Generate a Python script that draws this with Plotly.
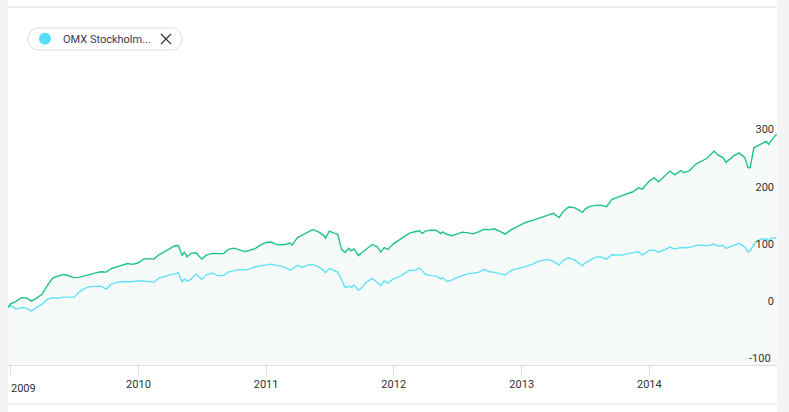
import plotly.graph_objects as go

dates = [
    "2008-12-24", "2009-01-01", "2009-01-15", "2009-02-01", "2009-02-15", "2009-03-01", "2009-03-15",
    "2009-04-01", "2009-04-15", "2009-05-01", "2009-05-15", "2009-06-01", "2009-06-15", "2009-07-01",
    "2009-07-15", "2009-08-01", "2009-08-15", "2009-09-01", "2009-09-15", "2009-10-01", "2009-10-15",
    "2009-11-01", "2009-11-15", "2009-12-01", "2009-12-15",
    "2010-01-01", "2010-01-15", "2010-02-01", "2010-02-15", "2010-03-01", "2010-03-15", "2010-04-01",
    "2010-04-15", "2010-04-25", "2010-05-06", "2010-05-12", "2010-05-20", "2010-06-01", "2010-06-15",
    "2010-07-01", "2010-07-15", "2010-08-01", "2010-08-15", "2010-09-01", "2010-09-15", "2010-10-01",
    "2010-10-15", "2010-11-01", "2010-11-15", "2010-12-01", "2010-12-15",
    "2011-01-01", "2011-01-15", "2011-02-01", "2011-02-15", "2011-03-01", "2011-03-10", "2011-03-16",
    "2011-04-01", "2011-04-15", "2011-05-01", "2011-05-15", "2011-06-01", "2011-06-15", "2011-06-20",
    "2011-07-01", "2011-07-15", "2011-07-25", "2011-08-05", "2011-08-15", "2011-08-25", "2011-09-01",
    "2011-09-10", "2011-09-22", "2011-10-01", "2011-10-15", "2011-11-01", "2011-11-15", "2011-11-25",
    "2011-12-05", "2011-12-15",
    "2012-01-01", "2012-01-15", "2012-02-01", "2012-02-15", "2012-03-01", "2012-03-15", "2012-03-22",
    "2012-04-01", "2012-04-15", "2012-05-01", "2012-05-15", "2012-05-20", "2012-06-01", "2012-06-15",
    "2012-07-01", "2012-07-15", "2012-08-01", "2012-08-15", "2012-09-01", "2012-09-15", "2012-10-01",
    "2012-10-15", "2012-11-01", "2012-11-15", "2012-12-01", "2012-12-15",
    "2013-01-01", "2013-01-15", "2013-02-01", "2013-02-15", "2013-03-01", "2013-03-15", "2013-04-01",
    "2013-04-18", "2013-05-01", "2013-05-15", "2013-06-01", "2013-06-24", "2013-07-01", "2013-07-15",
    "2013-08-01", "2013-08-15", "2013-09-01", "2013-09-15", "2013-10-01", "2013-10-15", "2013-11-01",
    "2013-11-15", "2013-12-01", "2013-12-12",
    "2014-01-01", "2014-01-15", "2014-01-27", "2014-02-15", "2014-03-01", "2014-03-15", "2014-04-01",
    "2014-04-10", "2014-04-25", "2014-05-15", "2014-06-01", "2014-06-15", "2014-07-01", "2014-07-05",
    "2014-07-15", "2014-08-01", "2014-08-08", "2014-09-01", "2014-09-15", "2014-10-01", "2014-10-10",
    "2014-10-16", "2014-10-27", "2014-11-01", "2014-11-15", "2014-12-01", "2014-12-09", "2014-12-15",
    "2014-12-31",
]

fund_values = [
    -10.5, -3.8, -0.3, 6.3, 6.1, 0.5, 5.2,
    12.7, 27.6, 40.7, 44.1, 46.8, 44.7, 41.5,
    41.9, 45.0, 47.6, 49.7, 51.8, 51.1, 57.2,
    60.4, 63.3, 66.0, 64.7,
    67.4, 73.8, 74.7, 73.8, 81.7, 86.0, 91.6,
    97.2, 97.4, 79.9, 86.6, 77.8, 84.3, 84.8,
    73.8, 81.1, 83.8, 83.1, 83.4, 90.7, 93.0,
    90.4, 86.9, 89.2, 92.1, 98.2,
    102.8, 103.5, 99.1, 98.8, 99.8, 102.3, 98.2,
    111.3, 115.7, 120.9, 125.5, 120.9, 114.8, 110.5,
    122.7, 119.2, 116.9, 90.4, 85.2, 92.5, 88.3,
    91.6, 79.9, 85.0, 91.6, 99.3, 95.3, 86.0,
    93.9, 90.7,
    100.9, 106.6, 113.1, 119.2, 121.6, 123.2, 118.7,
    122.7, 124.4, 124.1, 118.3, 121.3, 117.1, 114.6,
    117.8, 120.9, 119.5, 117.8, 121.6, 125.6, 125.3,
    126.7, 121.8, 117.4, 124.8, 129.0,
    134.9, 138.6, 141.5, 144.8, 146.8, 150.2, 153.7,
    146.2, 157.6, 164.6, 163.7, 155.3, 161.1, 165.8,
    167.5, 168.0, 165.4, 177.6, 181.5, 184.6, 189.0,
    191.3, 198.2, 196.0,
    209.9, 215.7, 208.7, 218.6, 227.4, 220.9, 228.2,
    224.8, 227.9, 240.1, 245.3, 249.7, 260.0, 262.3,
    256.0, 250.1, 242.6, 254.8, 259.1, 250.9, 233.5,
    233.1, 268.0, 269.6, 275.0, 279.2, 274.0, 280.6,
    291.9,
]

omx_values = [
    -10.5, -6.5, -13.4, -10.8, -11.7, -16.9, -10.5,
    -4.7, 3.5, 6.3, 5.2, 7.5, 7.5, 7.0,
    16.2, 22.7, 25.8, 26.2, 26.7, 21.5, 29.7,
    33.3, 34.6, 34.4, 34.2,
    35.9, 35.4, 34.0, 33.7, 40.7, 43.8, 46.2,
    48.0, 49.9, 33.7, 38.9, 35.4, 38.9, 47.6,
    38.4, 46.8, 49.4, 45.0, 45.0, 51.1, 54.1,
    55.5, 55.0, 56.2, 60.4, 61.6,
    63.3, 65.1, 62.5, 61.2, 58.1, 54.6, 56.4,
    63.0, 59.3, 63.7, 64.2, 60.2, 53.7, 49.9,
    57.2, 53.7, 51.1, 38.0, 23.7, 26.7, 24.4,
    28.4, 19.7, 23.6, 33.7, 40.3, 32.5, 27.6,
    35.9, 31.9,
    39.8, 42.4, 49.0, 54.3, 54.1, 58.1, 53.7,
    47.3, 45.0, 44.5, 39.3, 41.5, 34.6, 37.2,
    41.9, 45.0, 48.5, 49.4, 51.1, 55.7, 51.8,
    50.6, 48.5, 45.9, 53.6, 55.8,
    59.0, 61.6, 65.1, 69.5, 71.7, 73.3, 70.3,
    63.3, 72.1, 76.1, 72.4, 62.1, 66.8, 72.1,
    77.3, 77.7, 73.8, 81.5, 81.7, 80.8, 83.4,
    84.6, 86.6, 80.8,
    89.2, 89.5, 86.0, 90.9, 94.8, 91.3, 93.9,
    93.4, 94.2, 97.7, 98.2, 97.0, 99.3, 100.0,
    96.5, 97.4, 92.5, 97.7, 101.2, 94.8, 86.6,
    88.6, 100.7, 103.5, 108.4, 109.4, 105.7, 109.8,
    111.7,
]

legend_label = "OMX Stockholm..."
year_ticks = ["2009-01-01", "2010-01-01", "2011-01-01", "2012-01-01", "2013-01-01", "2014-01-01"]
year_labels = ["2009", "2010", "2011", "2012", "2013", "2014"]
y_ticks = [-100, 0, 100, 200, 300]

Y_MIN, Y_MAX = -111, 473.6
X_RANGE = ["2008-12-24", "2015-01-01"]

GREEN = "#1fc47e"
CYAN = "#62e1f6"
FILL = "#f6fbfa"
TEXT = "#333333"

fig = go.Figure()

# shaded area under the top series down to the bottom of the axis
fig.add_trace(go.Scatter(
    x=dates + dates[::-1],
    y=fund_values + [Y_MIN] * len(dates),
    fill="toself", fillcolor=FILL, mode="none",
    hoverinfo="skip", showlegend=False,
))
fig.add_trace(go.Scatter(x=dates, y=omx_values, mode="lines",
                         line=dict(color=CYAN, width=1.4), name="OMX Stockholm", showlegend=False))
fig.add_trace(go.Scatter(x=dates, y=fund_values, mode="lines",
                         line=dict(color=GREEN, width=1.4), name="Fund", showlegend=False))

# first year label is nudged right so it stays inside the chart
shown_labels = [""] + year_labels[1:]

fig.update_layout(
    width=789, height=412,
    margin=dict(l=8, r=12, t=30, b=47),
    paper_bgcolor="white", plot_bgcolor="white",
    font=dict(family="Roboto, Arial, sans-serif", size=11, color=TEXT),
    showlegend=False,
    xaxis=dict(
        type="date", range=X_RANGE,
        tickvals=year_ticks, ticktext=shown_labels,
        showgrid=False, zeroline=False,
        showline=True, linecolor="#dedede", linewidth=1,
        ticks="outside", ticklen=9, tickcolor="#dedede", tickwidth=1,
        tickfont=dict(size=11, color=TEXT),
        fixedrange=True,
    ),
    yaxis=dict(
        range=[Y_MIN, Y_MAX], side="right",
        tickvals=y_ticks[1:], ticklabelposition="inside",
        showgrid=False, zeroline=False, showline=False,
        tickfont=dict(size=11, color=TEXT),
        fixedrange=True,
    ),
)

fig.add_annotation(
    text=year_labels[0], xref="paper", yref="paper",
    x=(9 - 8) / 769, y=(365 - 388) / 335, xanchor="left", yanchor="middle",
    showarrow=False, font=dict(size=11, color=TEXT),
)
# lowest y label sits at the very bottom edge; plotly would drop it, so place it as text
fig.add_annotation(
    text=str(y_ticks[0]), xref="paper", yref="y",
    x=(773 - 8) / 769, y=y_ticks[0], xanchor="right", yanchor="middle",
    showarrow=False, font=dict(size=11, color=TEXT),
)

# container decorations: grey side strips and thin borders
shapes = [
    dict(type="rect", xref="paper", yref="paper", x0=-8 / 769, x1=0, y0=-0.2, y1=1.2,
         fillcolor="#f4f4f4", line_width=0, layer="below"),
    dict(type="rect", xref="paper", yref="paper", x0=1.0, x1=1.02, y0=-0.2, y1=1.2,
         fillcolor="#f4f4f4", line_width=0, layer="below"),
    dict(type="line", xref="paper", yref="paper", x0=0, x1=1, y0=(365 - 7) / 335, y1=(365 - 7) / 335,
         line=dict(color="#e0e0e0", width=1)),
    dict(type="line", xref="paper", yref="paper", x0=0, x1=1, y0=(365 - 404) / 335, y1=(365 - 404) / 335,
         line=dict(color="#e0e0e0", width=1)),
    # legend pill (pixel offsets from top-left of plot area)
    dict(type="path", xref="paper", yref="paper", xsizemode="pixel", ysizemode="pixel",
         xanchor=0, yanchor=1,
         path="M 31,2 L 163,2 C 177.7,2 177.7,-20 163,-20 L 31,-20 C 16.3,-20 16.3,2 31,2 Z",
         fillcolor="white", line=dict(color="#dcdcdc", width=1)),
    dict(type="circle", xref="paper", yref="paper", xsizemode="pixel", ysizemode="pixel",
         xanchor=0, yanchor=1, x0=31, x1=43, y0=-2.7, y1=-14.7,
         fillcolor="#55dff8", line_width=0),
    dict(type="path", xref="paper", yref="paper", xsizemode="pixel", ysizemode="pixel",
         xanchor=0, yanchor=1,
         path="M 153,-4 L 163,-14 M 153,-14 L 163,-4",
         line=dict(color=TEXT, width=1.2)),
]
fig.update_layout(shapes=shapes)

fig.add_annotation(
    text=legend_label, xref="paper", yref="paper",
    x=(61 - 8) / 769, y=(365 - 39) / 335, xanchor="left", yanchor="middle",
    showarrow=False, font=dict(size=11, color="#3b3557", family="Roboto, Arial, sans-serif"),
)

# remove the page's default body margin so the figure sits at the window origin
fig.write_html("out.html", config={"displayModeBar": False},
               post_script="document.body.style.margin='0';")
